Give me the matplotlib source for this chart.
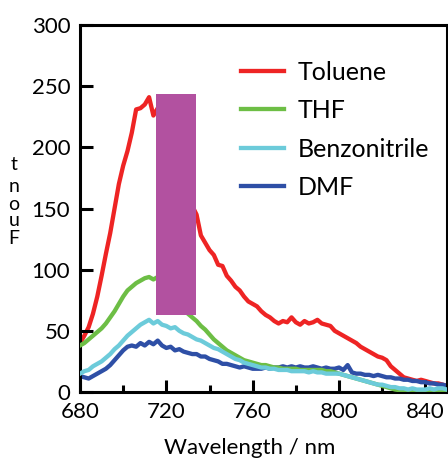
import matplotlib.pyplot as plt
import numpy as np

plt.rcParams['font.family'] = ['Lato', 'DejaVu Sans']

# Emission spectra, 2 nm steps
wavelength = np.arange(680, 851, 2)

toluene = [40, 46, 53, 64, 78, 95, 113, 130, 150, 170,
           185, 197, 212, 231, 232, 235, 241, 226, 232, 225,
           215, 205, 195, 185, 172, 162, 152, 145, 128, 122,
           116, 112, 104, 103, 95, 91, 86, 83, 78, 74,
           72, 70, 66, 63, 61, 58, 56, 58, 57, 61,
           57, 55, 58, 56, 57, 59, 56, 55, 54, 50,
           48, 46, 44, 42, 40, 37, 35, 33, 31, 29,
           28, 26, 21, 18, 15, 12, 11, 10, 9, 10,
           9, 8, 7, 7, 6, 5]
thf = [38, 40, 43, 46, 49, 52, 56, 61, 66, 72,
       78, 83, 86, 89, 91, 93, 94, 92, 94, 92,
       89, 85, 80, 74, 68, 64, 61, 58, 54, 51,
       47, 43, 40, 37, 34, 32, 30, 28, 26, 25,
       24, 23, 22, 22, 21, 20, 20, 19, 19, 19,
       19, 18, 18, 18, 18, 18, 18, 17, 17, 16,
       15, 14, 13, 12, 11, 10, 9, 8, 7, 6,
       5, 4, 3, 2, 1.5, 1, 0.5, 0, 0, 0,
       0, 0, 0, 0, 0, 0]
benzonitrile = [15, 17, 18, 21, 23, 25, 28, 31, 35, 38,
                42, 46, 49, 52, 55, 57, 59, 56, 58, 55,
                54, 52, 53, 50, 48, 47, 45, 43, 42, 40,
                38, 36, 35, 33, 31, 29, 27, 26, 24, 23,
                22, 21, 20, 20, 19, 19, 18, 18, 18, 17,
                17, 17, 17, 16, 17, 16, 16, 15, 15, 15,
                15, 14, 13, 12, 11, 10, 9, 8, 7, 6,
                6, 5, 4, 4, 3, 3, 2, 3, 2, 2,
                2, 3, 2, 3, 3, 2]
dmf = [13, 12, 11, 13, 15, 17, 19, 22, 26, 30,
       34, 37, 38, 37, 40, 38, 41, 39, 42, 38,
       36, 37, 34, 35, 33, 32, 31, 31, 29, 29,
       27, 26, 25, 23, 23, 22, 21, 20, 21, 20,
       19, 19, 19, 20, 19, 20, 20, 21, 20, 21,
       20, 21, 20, 20, 21, 20, 19, 20, 19, 19,
       20, 18, 22, 16, 15, 15, 14, 14, 13, 14,
       13, 12, 12, 11, 11, 10, 10, 9, 9, 8,
       8, 7, 7, 6, 6, 5]

labels = ['Toluene', 'THF', 'Benzonitrile', 'DMF']
colors = ['#EE2424', '#6DBE45', '#6CCBDA', '#2E4FA6']
zorders = [1, 3, 4, 2]

fig = plt.figure(figsize=(4.48, 4.59), dpi=100)
ax = fig.add_axes([0.1786, 0.146, 0.819, 0.7995])

handles = []
for y, lab, c, z in zip([toluene, thf, benzonitrile, dmf], labels, colors, zorders):
    h, = ax.plot(wavelength, y, color=c, lw=3.1, label=lab, zorder=z)
    handles.append(h)

# redaction box over the peak
ax.add_patch(plt.Rectangle((715.2, 63), 18.4, 181, color='#B251A0', zorder=6, lw=0))

ax.set_xlim(680, 850)
ax.set_ylim(0, 300)
ax.set_xticks([680, 720, 760, 800, 840])
ax.set_xticks([700, 740, 780, 820], minor=True)
ax.set_yticks([0, 50, 100, 150, 200, 250, 300])
ax.tick_params(axis='both', which='major', direction='in', length=9, width=2.2,
               labelsize=16, pad=7)
ax.tick_params(axis='x', which='minor', direction='in', length=5, width=2.2)
for s in ax.spines.values():
    s.set_linewidth(2.2)

fig.text(250 / 448, 1 - 448 / 459, 'Wavelength / nm', fontsize=16,
         ha='center', va='center')

# garbled vertical y label
for ch, ypx in zip(['t', 'n', 'o', 'u', 'F'], [164, 186, 204, 221, 238]):
    fig.text(14 / 448, 1 - ypx / 459, ch, fontsize=14, ha='center', va='center')

ax.legend(handles=handles, loc='upper left', bbox_to_anchor=(0.511, 0.895),
          bbox_transform=fig.transFigure, frameon=False, fontsize=18,
          handlelength=1.7, handletextpad=0.55, labelspacing=0.62, borderpad=0)

fig.savefig('out.png', dpi=100)
